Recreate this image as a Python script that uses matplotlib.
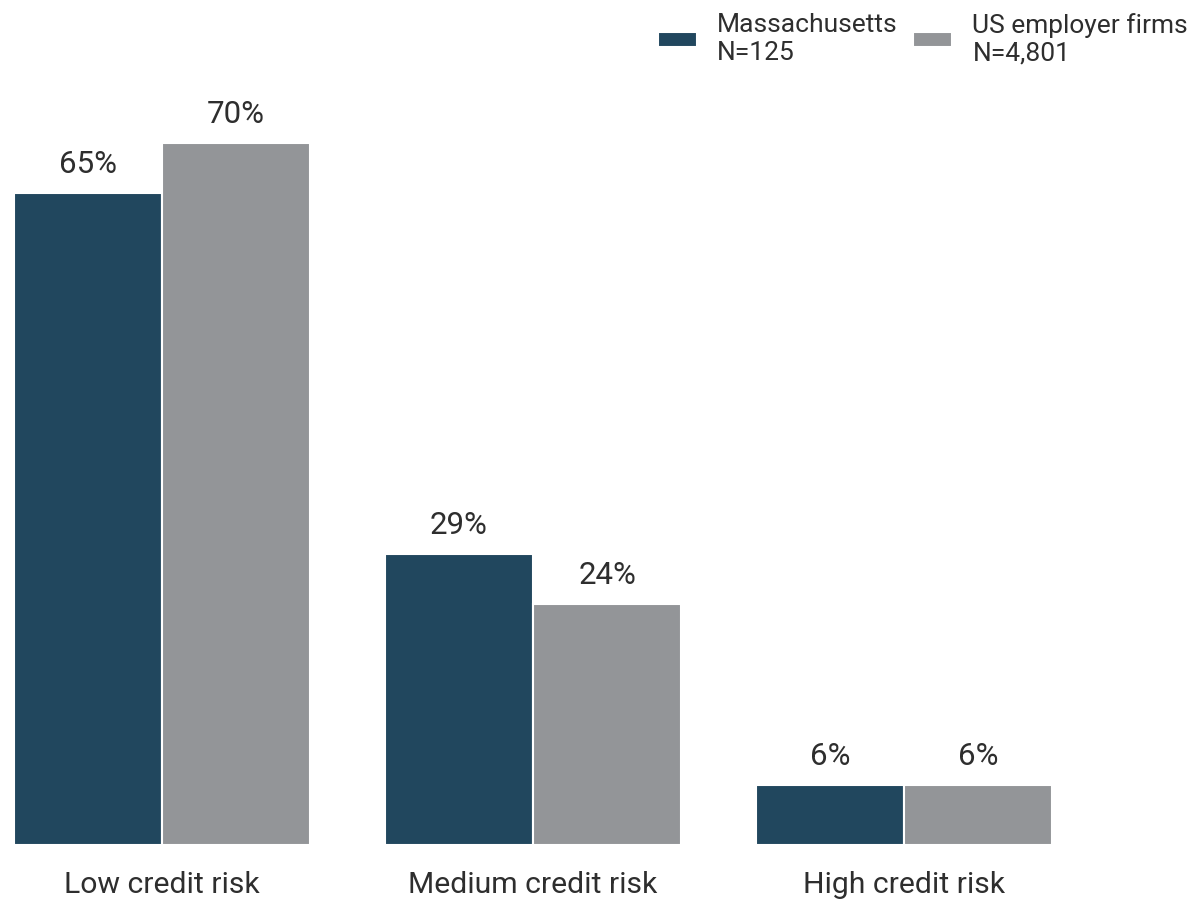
import numpy as np
import matplotlib
matplotlib.use('Agg')
import matplotlib.pyplot as plt

plt.rcParams['font.family'] = ['Roboto', 'DejaVu Sans']

# data
categories = ['Low credit risk', 'Medium credit risk', 'High credit risk']
massachusetts = [65, 29, 6]
us_firms = [70, 24, 6]
series_names = ['Massachusetts\nN=125', 'US employer firms\nN=4,801']
colors = ['#21475e', '#939598']
text_color = '#2e2e2e'

fig = plt.figure(figsize=(12.04, 9.08), dpi=100)
ax = fig.add_axes([0, 63 / 908, 1, 845 / 908])

x = np.arange(len(categories))
width = 0.4
bars1 = ax.bar(x - width / 2, massachusetts, width, color=colors[0],
               edgecolor='white', linewidth=1.5, label=series_names[0])
bars2 = ax.bar(x + width / 2, us_firms, width, color=colors[1],
               edgecolor='white', linewidth=1.5, label=series_names[1])

for bars in (bars1, bars2):
    for b in bars:
        ax.annotate(f'{b.get_height():.0f}%',
                    (b.get_x() + b.get_width() / 2, b.get_height()),
                    xytext=(0, 14.5), textcoords='offset points',
                    ha='center', va='baseline', fontsize=22.5, color=text_color)

ax.set_xlim(-162 / 371, (1204 - 162) / 371)
ax.set_ylim(0, 845 / 10.03)
ax.set_xticks(x)
ax.set_xticklabels(categories, fontsize=21.7, color=text_color)
ax.tick_params(axis='x', length=0, pad=19)
ax.set_yticks([])
for s in ax.spines.values():
    s.set_visible(False)

fig.legend(loc='upper right', bbox_to_anchor=(1188 / 1204, 1 - 13 / 908),
           ncol=2, frameon=False, fontsize=19, handlelength=1.48,
           handleheight=0.45, handletextpad=0.76, columnspacing=0.6,
           borderaxespad=0, borderpad=0, labelcolor=text_color)

fig.savefig('out.png', dpi=100)
